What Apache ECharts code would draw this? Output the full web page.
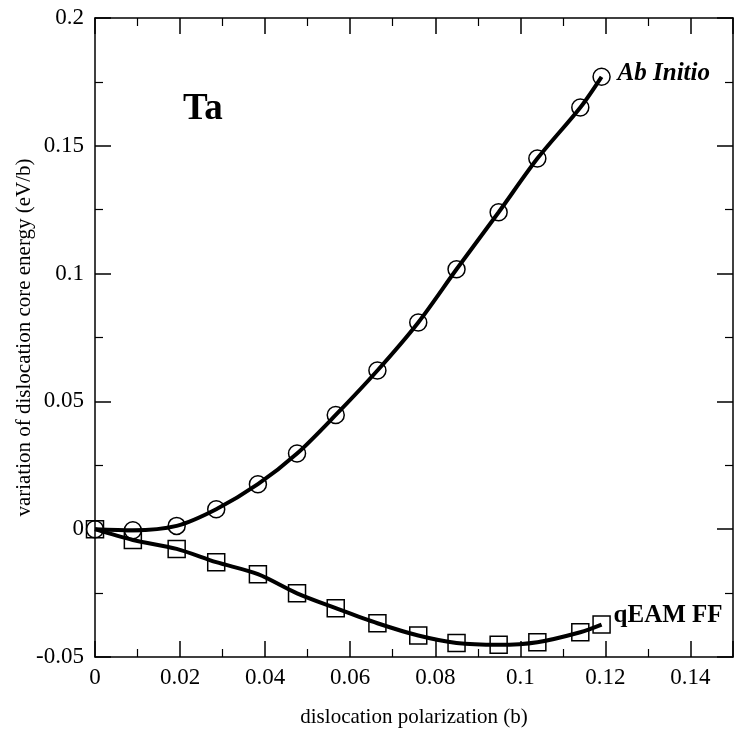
<!DOCTYPE html>
<html>
<head>
<meta charset="utf-8">
<script src="https://cdn.jsdelivr.net/npm/echarts@6/dist/echarts.min.js"></script>
<style>
  html, body { margin: 0; padding: 0; background: #fff; }
  #chart { width: 737px; height: 745px; }
</style>
</head>
<body>
<div id="chart"></div>
<script>
// polarization values (b)
const polarization = [0, 0.0089, 0.0192, 0.0285, 0.0383, 0.0475, 0.0566, 0.0664, 0.076, 0.085, 0.0949, 0.104, 0.1141, 0.1191];
// core energy variation (eV/b)
const abInitio = [0, -0.0004, 0.0013, 0.0078, 0.0176, 0.0296, 0.0447, 0.0621, 0.0809, 0.1017, 0.124, 0.145, 0.165, 0.177];
const qEAM = [0, -0.0042, -0.0077, -0.0129, -0.0176, -0.0251, -0.0309, -0.0368, -0.0416, -0.0445, -0.0452, -0.0442, -0.0403, -0.0373];

const serif = 'Liberation Serif, Times New Roman, serif';
const chart = echarts.init(document.getElementById('chart'));

function pairs(ys) {
    return polarization.map((x, i) => [x, ys[i]]);
}

// common axis look, ticks pointing inward
const axisBase = {
    axisLine: { show: true, onZero: false, lineStyle: { color: '#000', width: 1.5 } },
    axisTick: { show: true, inside: true, length: 16, lineStyle: { color: '#000', width: 1.5 } },
    minorTick: { show: true, splitNumber: 2, length: 8, lineStyle: { color: '#000', width: 1.2 } },
    splitLine: { show: false }
};

chart.setOption({
    backgroundColor: '#fff',
    animation: false,
    title: {
        text: 'Ta',
        left: 178,
        top: 86,
        textStyle: { fontFamily: serif, fontSize: 37, fontWeight: 'bold', color: '#000' }
    },
    grid: { left: 95, right: 4, top: 18, bottom: 88, outerBoundsMode: 'none' },
    xAxis: [
        Object.assign({}, axisBase, {
            type: 'value', min: 0, max: 0.15, interval: 0.02, position: 'bottom',
            name: 'dislocation polarization (b)', nameLocation: 'middle', nameGap: 50,
            nameMoveOverlap: false,
            nameTextStyle: { fontFamily: serif, fontSize: 21, color: '#000' },
            axisLabel: {
                fontFamily: serif, fontSize: 23, color: '#000', margin: 9, showMaxLabel: false,
                formatter: v => (v > 0.1499 ? '' : String(+v.toFixed(2)))
            }
        }),
        Object.assign({}, axisBase, {
            type: 'value', min: 0, max: 0.15, interval: 0.02, position: 'top',
            axisLabel: { show: false }
        })
    ],
    yAxis: [
        Object.assign({}, axisBase, {
            type: 'value', min: -0.05, max: 0.2, interval: 0.05, position: 'left',
            name: 'variation of dislocation core energy (eV/b)', nameLocation: 'middle', nameGap: 60,
            nameMoveOverlap: false,
            nameTextStyle: { fontFamily: serif, fontSize: 21, color: '#000' },
            axisLabel: {
                fontFamily: serif, fontSize: 23, color: '#000', margin: 11,
                formatter: v => String(+v.toFixed(2))
            }
        }),
        Object.assign({}, axisBase, {
            type: 'value', min: -0.05, max: 0.2, interval: 0.05, position: 'right',
            axisLabel: { show: false }
        })
    ],
    series: [
        {
            name: 'Ab Initio',
            type: 'line',
            data: pairs(abInitio),
            smooth: 0.3,
            symbol: 'circle',
            symbolSize: 17,
            lineStyle: { color: '#000', width: 4 },
            itemStyle: { color: 'transparent', borderColor: '#000', borderWidth: 1.5 },
            endLabel: {
                show: true, formatter: '{a}', distance: 16, offset: [0, -3], color: '#000',
                fontFamily: serif, fontSize: 25, fontWeight: 'bold', fontStyle: 'italic'
            },
            z: 3
        },
        {
            name: 'qEAM FF',
            type: 'line',
            data: pairs(qEAM),
            smooth: 0.3,
            symbol: 'rect',
            symbolSize: 17,
            lineStyle: { color: '#000', width: 4 },
            itemStyle: { color: 'transparent', borderColor: '#000', borderWidth: 1.5 },
            endLabel: {
                show: true, formatter: '{a}', distance: 12, offset: [0, -9], color: '#000',
                fontFamily: serif, fontSize: 25, fontWeight: 'bold'
            },
            z: 3
        }
    ]
});

window.addEventListener('resize', () => {
    chart.resize();
});
</script>
</body>
</html>
